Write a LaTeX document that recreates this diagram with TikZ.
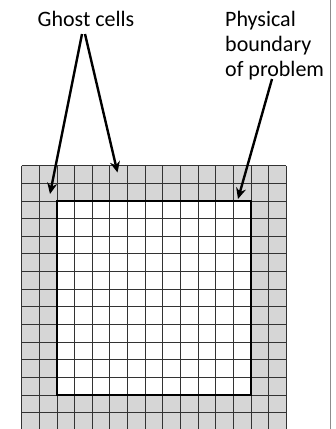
\documentclass[tikz,border=0pt]{standalone}
\usepackage{fontspec}
\setmainfont{Carlito}
\usetikzlibrary{arrows.meta}
\begin{document}
\begin{tikzpicture}[x=1pt,y=-1pt,
  gridline/.style={draw=black!80, line width=1pt},
  ghostfill/.style={fill=black!16},
  boundary/.style={draw=black, line width=2pt},
  pointer/.style={line width=2.4pt, -{Stealth[length=11pt,width=10pt]}},
  lbl/.style={font=\fontsize{22}{24.7}\selectfont, inner sep=0pt}
]
\useasboundingbox (0,0) rectangle (336,429);
\begin{scope}
\clip (0,0) rectangle (336,429);
\fill[ghostfill] (21.7,165.7) rectangle (286.45,430.45);
\fill[white] (57,201) rectangle (251.2,395.2);
\foreach \i in {0,...,15} {
  \draw[gridline] ({21.7+\i*17.65},165.7) -- ({21.7+\i*17.65},430.45);
  \draw[gridline] (21.7,{165.7+\i*17.65}) -- (286.45,{165.7+\i*17.65});
}
\draw[boundary] (57,201) rectangle (251.2,395.2);
\end{scope}
\draw[black!45, line width=1pt] (330.5,0) -- (330.5,429);
\node[lbl, anchor=base] (ghost) at (86,26) {Ghost cells};
\node[lbl, anchor=base west, align=left] (phys) at (225,76) {Physical\\boundary\\of problem};
\coordinate (g1) at (82,34);
\coordinate (g2) at (85,34);
\coordinate (gl) at (50,194);
\coordinate (gr) at (117.5,172.5);
\coordinate (p1) at (272,79);
\coordinate (pb) at (238,199);
\draw[pointer] (g1) -- (gl);
\draw[pointer] (g2) -- (gr);
\draw[pointer] (p1) -- (pb);
\end{tikzpicture}
\end{document}
